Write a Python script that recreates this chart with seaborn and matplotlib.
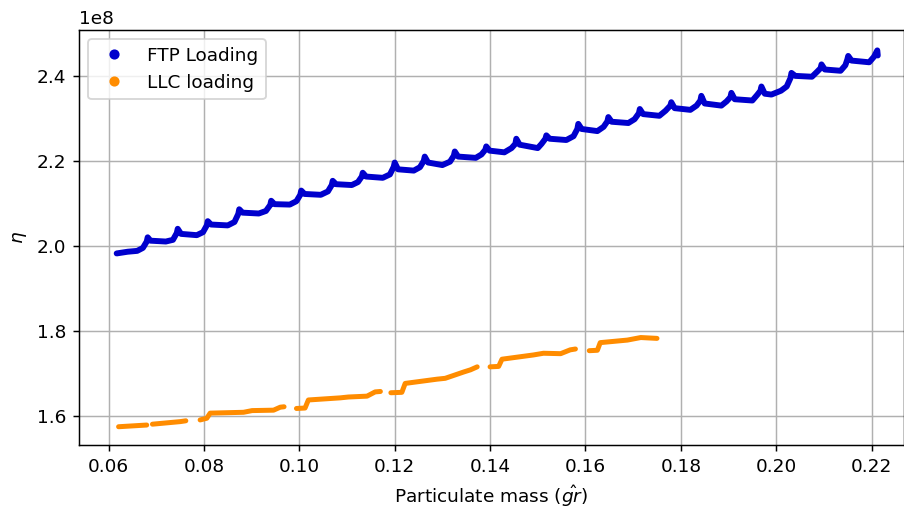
import numpy as np
import pandas as pd
import matplotlib
matplotlib.use("Agg")
import matplotlib.pyplot as plt
from matplotlib.lines import Line2D
import seaborn as sns

# ---- data (y in units of 1e8) ----
ftp_x = [0.0617, 0.0640, 0.0660, 0.0672,
         0.0680, 0.0682, 0.0688, 0.0720, 0.0735,
         0.0743, 0.0745, 0.0752, 0.0785, 0.0798,
         0.0806, 0.0808, 0.0815, 0.0850, 0.0864,
         0.0872, 0.0874, 0.0881, 0.0915, 0.0930,
         0.0939, 0.0941, 0.0948, 0.0980, 0.0994,
         0.1002, 0.1004, 0.1011, 0.1045, 0.1060,
         0.1068, 0.1070, 0.1077, 0.1110, 0.1123,
         0.1131, 0.1133, 0.1140, 0.1175, 0.1190,
         0.1198, 0.1200, 0.1207, 0.1240, 0.1253,
         0.1261, 0.1263, 0.1270, 0.1300, 0.1316,
         0.1324, 0.1326, 0.1333, 0.1370, 0.1382,
         0.1390, 0.1392, 0.1399, 0.1430, 0.1445,
         0.1453, 0.1455, 0.1462, 0.1500, 0.1508,
         0.1516, 0.1518, 0.1525, 0.1560, 0.1575,
         0.1583, 0.1585, 0.1592, 0.1625, 0.1638,
         0.1646, 0.1648, 0.1655, 0.1690, 0.1703,
         0.1712, 0.1714, 0.1721, 0.1755, 0.1768,
         0.1778, 0.1780, 0.1787, 0.1820, 0.1833,
         0.1841, 0.1843, 0.1850, 0.1885, 0.1896,
         0.1904, 0.1906, 0.1913, 0.1950, 0.1960,
         0.1967, 0.1969, 0.1976, 0.1990, 0.2010, 0.2022,
         0.2030, 0.2032, 0.2040, 0.2075, 0.2086,
         0.2093, 0.2095, 0.2102, 0.2135, 0.2145,
         0.2149, 0.2151, 0.2158, 0.2195, 0.2205, 0.2212, 0.2213]
ftp_y = [1.982, 1.986, 1.988, 1.995,
         2.010, 2.020, 2.012, 2.010, 2.014,
         2.030, 2.040, 2.028, 2.025, 2.032,
         2.048, 2.058, 2.050, 2.048, 2.056,
         2.075, 2.086, 2.078, 2.076, 2.082,
         2.096, 2.106, 2.098, 2.097, 2.105,
         2.120, 2.130, 2.122, 2.120, 2.128,
         2.143, 2.153, 2.145, 2.143, 2.150,
         2.163, 2.172, 2.163, 2.160, 2.168,
         2.186, 2.196, 2.180, 2.177, 2.185,
         2.200, 2.210, 2.196, 2.190, 2.198,
         2.212, 2.222, 2.210, 2.207, 2.215,
         2.226, 2.234, 2.224, 2.220, 2.230,
         2.240, 2.252, 2.238, 2.230, 2.240,
         2.252, 2.260, 2.252, 2.249, 2.258,
         2.275, 2.287, 2.275, 2.270, 2.280,
         2.293, 2.303, 2.292, 2.289, 2.298,
         2.312, 2.322, 2.310, 2.306, 2.318,
         2.330, 2.338, 2.324, 2.320, 2.330,
         2.342, 2.353, 2.335, 2.330, 2.340,
         2.350, 2.360, 2.345, 2.342, 2.355,
         2.365, 2.375, 2.358, 2.356, 2.365, 2.375,
         2.395, 2.407, 2.400, 2.398, 2.410,
         2.418, 2.427, 2.415, 2.412, 2.425,
         2.438, 2.447, 2.436, 2.432, 2.445, 2.460, 2.448]

llc_x = [0.0621, 0.0680,
         0.0692, 0.0750, 0.0762,
         0.0792, 0.0806, 0.0813, 0.0883, 0.0901, 0.0946, 0.0960, 0.0968,
         0.0994, 0.1012, 0.1019, 0.1086, 0.1103, 0.1142, 0.1159, 0.1170,
         0.1192, 0.1215, 0.1222, 0.1289, 0.1306, 0.1345, 0.1359, 0.1373,
         0.1400, 0.1418, 0.1425, 0.1491, 0.1512, 0.1548, 0.1568, 0.1579,
         0.1608, 0.1625, 0.1631, 0.1688, 0.1716, 0.1750]
llc_y = [1.574, 1.578,
         1.580, 1.586, 1.588,
         1.590, 1.594, 1.606, 1.608, 1.612, 1.613, 1.620, 1.621,
         1.617, 1.618, 1.637, 1.642, 1.644, 1.646, 1.656, 1.657,
         1.654, 1.655, 1.676, 1.686, 1.688, 1.703, 1.708, 1.715,
         1.715, 1.716, 1.733, 1.743, 1.747, 1.746, 1.755, 1.757,
         1.753, 1.754, 1.772, 1.778, 1.784, 1.782]
llc_seg = [0, 0,
           1, 1, 1,
           2, 2, 2, 2, 2, 2, 2, 2,
           3, 3, 3, 3, 3, 3, 3, 3,
           4, 4, 4, 4, 4, 4, 4, 4,
           5, 5, 5, 5, 5, 5, 5, 5,
           6, 6, 6, 6, 6, 6]

series_names = ["FTP Loading", "LLC loading"]
series_colors = ["#0000CD", "#FF8C00"]

df = pd.concat([
    pd.DataFrame({"x": ftp_x, "y": np.array(ftp_y) * 1e8,
                  "series": series_names[0], "seg": 0}),
    pd.DataFrame({"x": llc_x, "y": np.array(llc_y) * 1e8,
                  "series": series_names[1], "seg": np.array(llc_seg) + 100}),
], ignore_index=True)

DPI = 133
fig = plt.figure(figsize=(904 / DPI, 511 / DPI), dpi=DPI)
ax = fig.add_axes([79 / 904, 66 / 511, 825 / 904, 415 / 511])

lws = {series_names[0]: 3.2, series_names[1]: 2.7}
for name, color in zip(series_names, series_colors):
    sub = df[df["series"] == name]
    sns.lineplot(data=sub, x="x", y="y", units="seg", estimator=None,
                 sort=False, color=color, linewidth=lws[name],
                 solid_capstyle="round", ax=ax, legend=False)

ax.set_xlim(0.0538, 0.2268)
ax.set_ylim(1.531e8, 2.508e8)
ax.set_xticks([0.06, 0.08, 0.10, 0.12, 0.14, 0.16, 0.18, 0.20, 0.22])
ax.set_yticks([1.6e8, 1.8e8, 2.0e8, 2.2e8, 2.4e8])
ax.grid(True)
ax.set_xlabel(r"Particulate mass ($\hat{gr}$)")
ax.set_ylabel(r"$\eta$")

handles = [Line2D([0], [0], marker="o", linestyle="", color=c, markersize=4.5)
           for c in series_colors]
ax.legend(handles, series_names, loc="upper left")

fig.savefig("out.png", dpi=DPI)
